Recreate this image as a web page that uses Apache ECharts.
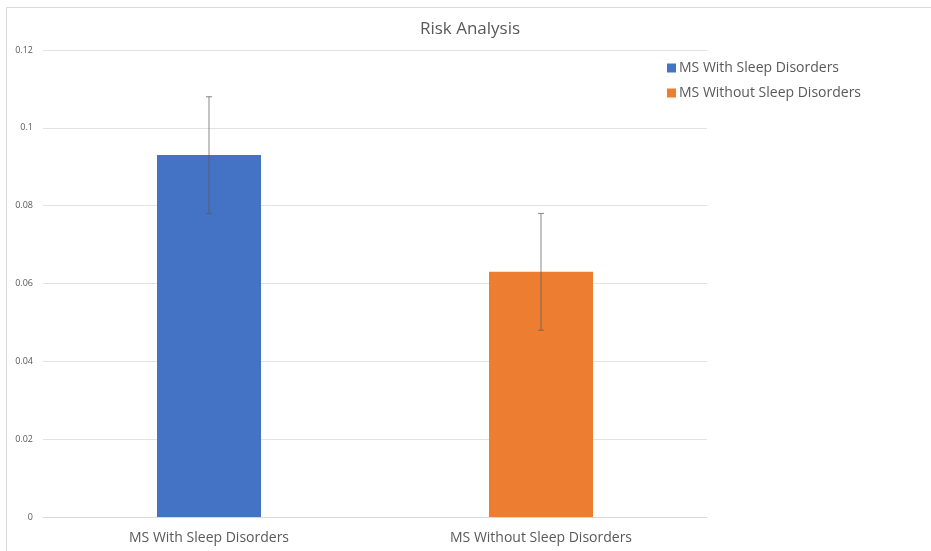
<!DOCTYPE html>
<html>
<head>
<meta charset="utf-8">
<script src="https://cdn.jsdelivr.net/npm/echarts@6/dist/echarts.min.js"></script>
<style>
  html, body { margin: 0; padding: 0; background: #fff; }
  #chart { width: 931px; height: 551px; }
</style>
</head>
<body>
<div id="chart"></div>
<script>
// data
const categories = ['MS With Sleep Disorders', 'MS Without Sleep Disorders'];
const withSleep = [0.093, '-'];
const withoutSleep = ['-', 0.063];
const errLow = [0.078, 0.048];
const errHigh = [0.108, 0.078];
const yTicks = [0, 0.02, 0.04, 0.06, 0.08, 0.1, 0.12];

const textColor = '#595959';
const font = 'Open Sans';

const chart = echarts.init(document.getElementById('chart'));

const option = {
  backgroundColor: '#fff',
  animation: false,
  title: {
    text: 'Risk Analysis',
    left: 465,
    textAlign: 'center',
    top: 16,
    textStyle: { color: textColor, fontSize: 17, fontWeight: 'normal', fontFamily: font }
  },
  legend: {
    orient: 'vertical',
    left: 662,
    top: 56,
    itemWidth: 9,
    itemHeight: 9,
    itemGap: 11,
    icon: 'rect',
    data: ['MS With Sleep Disorders', 'MS Without Sleep Disorders'],
    textStyle: { color: textColor, fontSize: 14, fontFamily: font, padding: [0, 0, 0, -2] }
  },
  grid: { left: 43, right: 224, top: 50, bottom: 34 },
  xAxis: {
    type: 'category',
    data: categories,
    axisLine: { lineStyle: { color: '#d9d9d9' } },
    axisTick: { show: false },
    axisLabel: { color: textColor, fontSize: 14, fontFamily: font, margin: 14 }
  },
  yAxis: {
    type: 'value',
    min: yTicks[0],
    max: yTicks[yTicks.length - 1],
    interval: 0.02,
    axisLine: { show: false },
    axisTick: { show: false },
    splitLine: { lineStyle: { color: '#e3e3e3' } },
    axisLabel: { color: textColor, fontSize: 9, fontFamily: font, margin: 10 }
  },
  series: [
    {
      name: 'MS With Sleep Disorders',
      type: 'bar',
      data: withSleep,
      barWidth: 104,
      barGap: '-100%',
      itemStyle: { color: '#4472c4' }
    },
    {
      name: 'MS Without Sleep Disorders',
      type: 'bar',
      data: withoutSleep,
      barWidth: 104,
      itemStyle: { color: '#ed7d31' }
    },
    {
      type: 'custom',
      z: 10,
      data: errLow.map((lo, i) => [i, lo, errHigh[i]]),
      renderItem: function (params, api) {
        const lo = api.coord([api.value(0), api.value(1)]);
        const hi = api.coord([api.value(0), api.value(2)]);
        const w = 3;
        const style = { stroke: 'rgba(90,90,90,0.6)', lineWidth: 1.2 };
        return {
          type: 'group',
          children: [
            { type: 'line', shape: { x1: hi[0], y1: hi[1], x2: lo[0], y2: lo[1] }, style: style },
            { type: 'line', shape: { x1: hi[0] - w, y1: hi[1], x2: hi[0] + w, y2: hi[1] }, style: style },
            { type: 'line', shape: { x1: lo[0] - w, y1: lo[1], x2: lo[0] + w, y2: lo[1] }, style: style }
          ]
        };
      }
    }
  ],
  graphic: [
    {
      type: 'polyline',
      shape: { points: [[6.5, 551], [6.5, 7.5], [931, 7.5]] },
      style: { stroke: '#d9d9d9', fill: null, lineWidth: 1 },
      silent: true
    }
  ]
};

chart.setOption(option);
</script>
</body>
</html>
